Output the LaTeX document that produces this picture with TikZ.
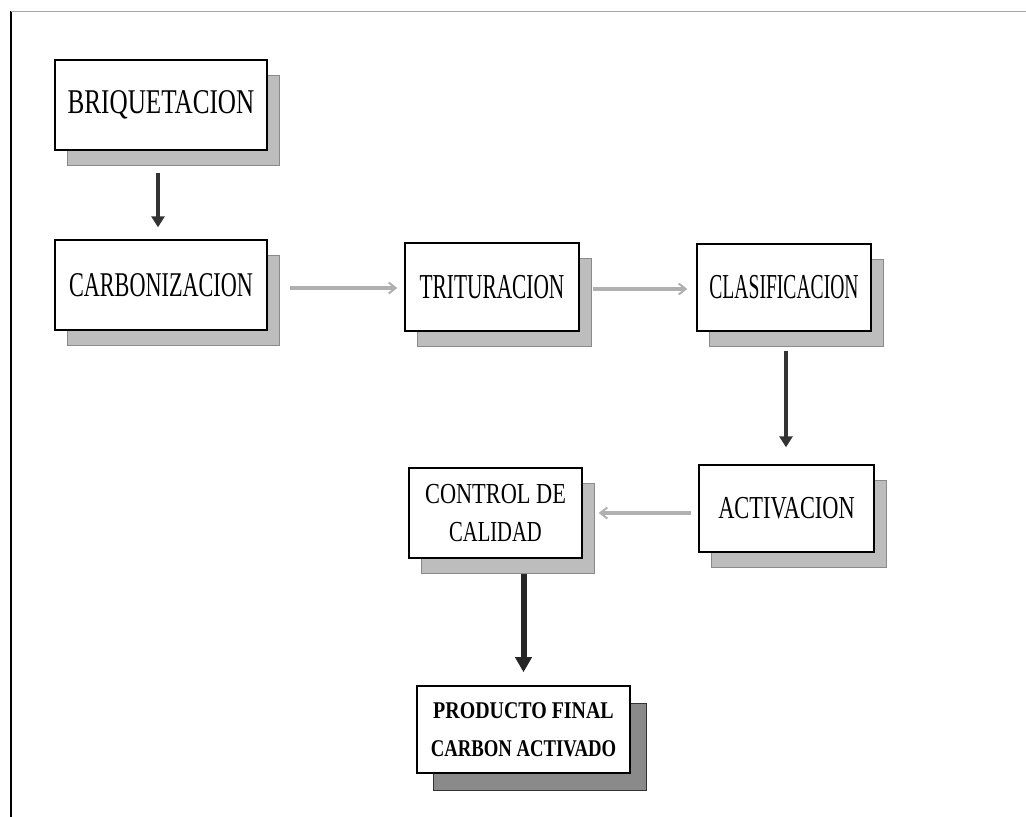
\documentclass[tikz,border=0pt]{standalone}
\usepackage{fontspec}
\usepackage{graphicx}
\setmainfont{Liberation Serif}
\usetikzlibrary{arrows.meta,shadows}
\definecolor{shadowgray}{HTML}{BDBDBD}
\definecolor{shadowedge}{HTML}{8A8A8A}
\definecolor{lightarrow}{HTML}{B0B0B0}
\definecolor{darkarrow}{HTML}{333333}
\tikzset{
  procbox/.style={draw=black, line width=1.4pt, fill=white, rectangle, inner sep=0pt,
    drop shadow={shadow xshift=12pt, shadow yshift=-15pt, fill=shadowgray, draw=shadowedge, line width=1pt, opacity=1}},
  finalbox/.style={draw=black, line width=1.6pt, fill=white, rectangle, inner sep=0pt,
    drop shadow={shadow xshift=16pt, shadow yshift=-17pt, fill=shadowedge, draw=darkarrow, line width=1pt, opacity=1}},
  lightflow/.style={draw=lightarrow, line width=3.5pt, -{Straight Barb[length=7pt,width=11pt,line width=2pt]}},
  darkflow/.style={draw=darkarrow, line width=4.5pt, -{Triangle[length=11pt,width=13pt]}},
  boldflow/.style={draw=black!85, line width=6pt, -{Triangle[length=15pt,width=16pt]}},
}
\newcommand{\sq}[2]{\scalebox{#1}[1]{#2}}
\begin{document}
\begin{tikzpicture}[x=1pt,y=-1pt]
\useasboundingbox (0,0) rectangle (1026,817);
\fill[white] (0,0) rectangle (1026,817);
% frame
\draw[line width=2pt, black] (11,11) -- (11,817);
\draw[line width=1pt, black!35] (11,11) -- (1026,11);
% nodes
\node[procbox, minimum width=212pt, minimum height=90pt, font=\fontsize{34.7}{38}\selectfont] (briq) at (161,105) {\sq{0.725}{BRIQUETACION}};
\node[procbox, minimum width=212pt, minimum height=90pt, font=\fontsize{34.7}{38}\selectfont] (carb) at (161,285) {\sq{0.64}{CARBONIZACION}};
\node[procbox, minimum width=174pt, minimum height=88pt, font=\fontsize{35}{38}\selectfont] (trit) at (492,287) {\sq{0.61}{TRITURACION}};
\node[procbox, minimum width=174pt, minimum height=87pt, font=\fontsize{35}{38}\selectfont] (clas) at (784,287.5) {\sq{0.56}{CLASIFICACION}};
\node[procbox, minimum width=175pt, minimum height=87pt, font=\fontsize{32}{38}\selectfont] (act) at (786.5,508.5) {\sq{0.70}{ACTIVACION}};
\node[procbox, minimum width=173pt, minimum height=90pt, align=center, font=\fontsize{29}{38}\selectfont] (ctrl) at (495.5,513) {\sq{0.77}{CONTROL DE}\\\sq{0.71}{CALIDAD}};
\node[finalbox, minimum width=213pt, minimum height=87pt, align=center, font=\fontsize{24}{38}\selectfont\bfseries] (prod) at (523.5,729.5) {\sq{0.83}{PRODUCTO FINAL}\\\sq{0.78}{CARBON ACTIVADO}};
% connectors
\draw[darkflow, shorten <=22pt, shorten >=12pt] ([xshift=-3pt]briq.south) -- ([xshift=-3pt]carb.north);
\draw[lightflow, shorten <=22pt, shorten >=7pt] ([yshift=-3pt]carb.east) -- ([yshift=-3pt]carb.east -| trit.west);
\draw[lightflow, shorten <=13pt, shorten >=9pt] ([yshift=-2pt]trit.east) -- ([yshift=-2pt]trit.east -| clas.west);
\draw[darkflow, shorten <=19pt, shorten >=17pt] ([xshift=2pt]clas.south) -- ([xshift=2pt]clas.south |- act.north);
\draw[lightflow, shorten <=7pt, shorten >=16pt] (act.west |- ctrl.east) -- (ctrl.east);
\draw[boldflow, shorten <=15pt, shorten >=13pt] (prod.north |- ctrl.south) -- (prod.north);
\end{tikzpicture}
\end{document}
